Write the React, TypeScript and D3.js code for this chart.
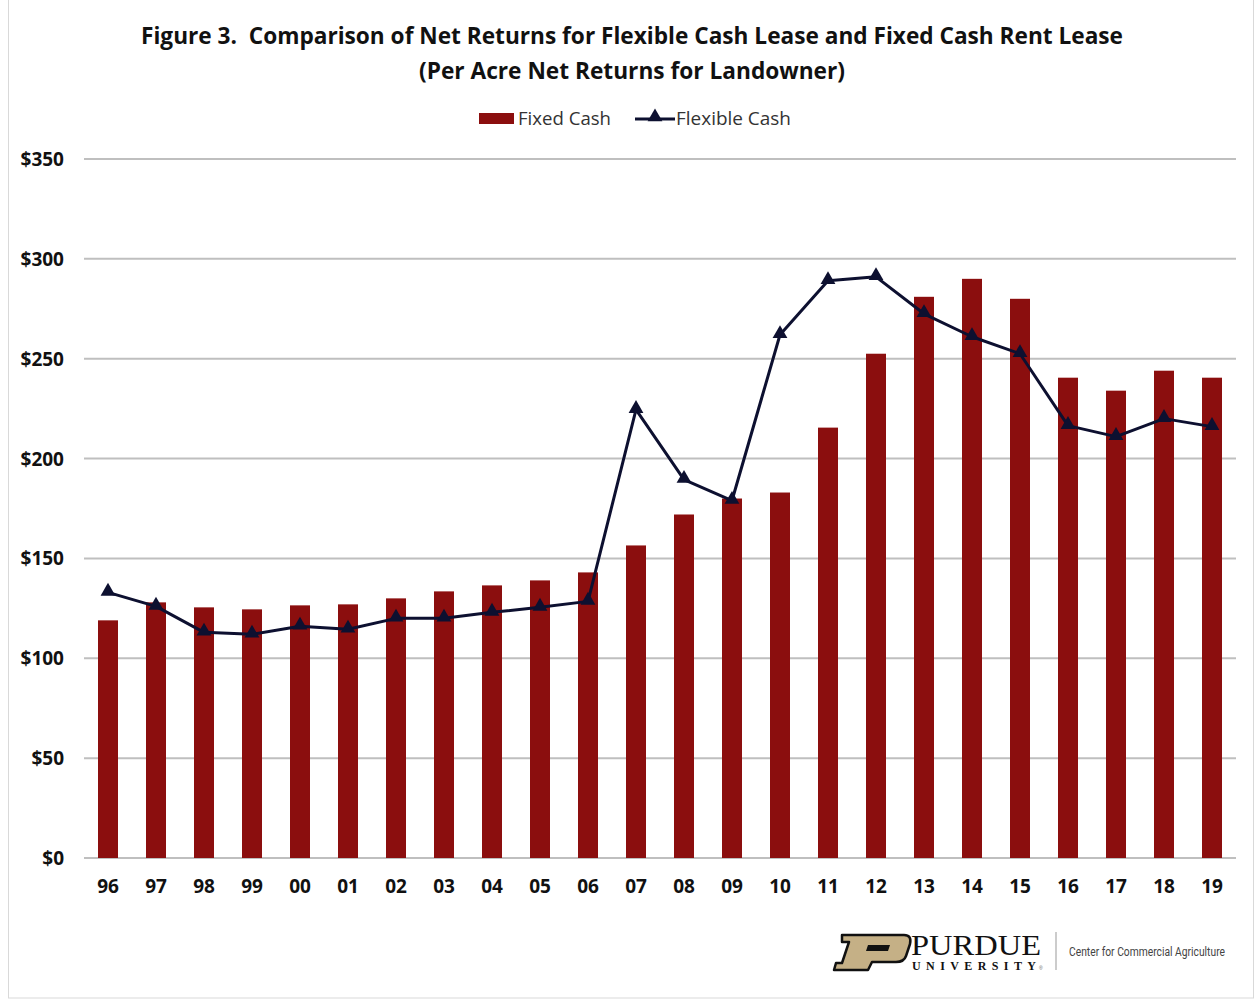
import React from "react";
import * as d3 from "d3";

const years = ["96","97","98","99","00","01","02","03","04","05","06","07","08","09","10","11","12","13","14","15","16","17","18","19"];
const fixedCash = [119,128,125.5,124.5,126.5,127,130,133.5,136.5,139,143,156.5,172,180,183,215.5,252.5,281,290,280,240.5,234,244,240.5];
const flexibleCash = [133,126,113,112,116,114.5,120,120,123,125.5,128.5,224.5,189.5,179,262,289,291,272.5,261,252.5,216.5,211,220,216];
const yTicks = [0,50,100,150,200,250,300,350];

const W = 1255, H = 1001;
const margin = { left: 84, right: 1236, top: 159, bottom: 858 };
const font = "'Open Sans', 'Noto Sans', sans-serif";

export default function App() {
  const x = d3.scaleBand().domain(years).range([margin.left, margin.right]).paddingInner(0).paddingOuter(0);
  const y = d3.scaleLinear().domain([0, 350]).range([margin.bottom, margin.top]);
  const barW = 20;
  const cx = (d: string) => (x(d) as number) + x.bandwidth() / 2;
  const line = d3.line<number>().x((_, i) => cx(years[i])).y(v => y(v));
  const tri = d3.symbol().type(d3.symbolTriangle).size(95)() as string;

  return (
    <svg width={W} height={H} style={{ position: "absolute", left: 0, top: 0, background: "#fff" }}>
      <rect x={8.5} y={-2} width={1245} height={1000} fill="#fff" stroke="#d9d9d9" />
      <text x={632} y={44} textAnchor="middle" fontFamily={font} fontWeight={700} fontSize={23} fill="#111" textLength={982} lengthAdjust="spacingAndGlyphs" style={{ whiteSpace: "pre" }}>{"Figure 3.  Comparison of Net Returns for Flexible Cash Lease and Fixed Cash Rent Lease"}</text>
      <text x={632} y={79} textAnchor="middle" fontFamily={font} fontWeight={700} fontSize={23} fill="#111" textLength={426} lengthAdjust="spacingAndGlyphs">(Per Acre Net Returns for Landowner)</text>

      {/* legend */}
      <rect x={479} y={113} width={35} height={11} fill="#8B0E0E" />
      <text x={518} y={125} fontFamily={font} fontSize={18} fill="#333" textLength={93} lengthAdjust="spacingAndGlyphs">Fixed Cash</text>
      <line x1={635} y1={119} x2={675} y2={119} stroke="#0d1030" strokeWidth={3} />
      <path d={tri} transform="translate(655,117)" fill="#0d1030" />
      <text x={676} y={125} fontFamily={font} fontSize={18} fill="#333" textLength={115} lengthAdjust="spacingAndGlyphs">Flexible Cash</text>

      {/* grid + y labels */}
      {yTicks.map(t => (
        <g key={t}>
          <line x1={margin.left} x2={margin.right} y1={y(t)} y2={y(t)} stroke="#bfbfbf" strokeWidth={2} />
          <text x={64} y={y(t) + 7} textAnchor="end" fontFamily={font} fontWeight={700} fontSize={19} fill="#111">{"$" + t}</text>
        </g>
      ))}

      {/* bars */}
      {fixedCash.map((v, i) => (
        <rect key={i} x={cx(years[i]) - barW / 2} y={y(v)} width={barW} height={y(0) - y(v)} fill="#8B0E0E" />
      ))}

      {/* line */}
      <path d={line(flexibleCash) as string} fill="none" stroke="#0d1030" strokeWidth={3} strokeLinejoin="round" />
      {flexibleCash.map((v, i) => (
        <path key={i} d={tri} transform={`translate(${cx(years[i])},${y(v) - 1})`} fill="#0d1030" />
      ))}

      {/* x labels */}
      {years.map(d => (
        <text key={d} x={cx(d)} y={893} textAnchor="middle" fontFamily={font} fontWeight={700} fontSize={19} fill="#111">{d}</text>
      ))}

      {/* logo */}
      <g>
        <path d="M842,935 L904,935 Q912,935 910,944 L906,956 Q904,962 896,962 L872,962 L868,970 L834,970 L836,963 L842,963 L849,942 L842,942 Z" fill="#c5b086" stroke="#111" strokeWidth={2.5} strokeLinejoin="round" />
        <path d="M868,945 L890,945 L888,951 L866,951 Z" fill="#111" />
        <text x={911} y={955} fontFamily="'Liberation Serif', 'DejaVu Serif', serif" fontWeight={400} fontSize={30} fill="#111" textLength={130} lengthAdjust="spacingAndGlyphs">PURDUE</text>
        <text x={912} y={970} fontFamily="'Liberation Serif', serif" fontWeight={700} fontSize={12} fill="#111" textLength={124} lengthAdjust="spacing">UNIVERSITY</text>
        <text x={1039} y={970} fontFamily="sans-serif" fontSize={5} fill="#666">®</text>
        <line x1={1056} y1={932} x2={1056} y2={970} stroke="#999" strokeWidth={1} />
        <text x={1069} y={956} fontFamily="'Roboto', 'Liberation Sans Narrow', sans-serif" fontSize={12} fill="#444" textLength={156} lengthAdjust="spacingAndGlyphs">Center for Commercial Agriculture</text>
      </g>
    </svg>
  );
}
